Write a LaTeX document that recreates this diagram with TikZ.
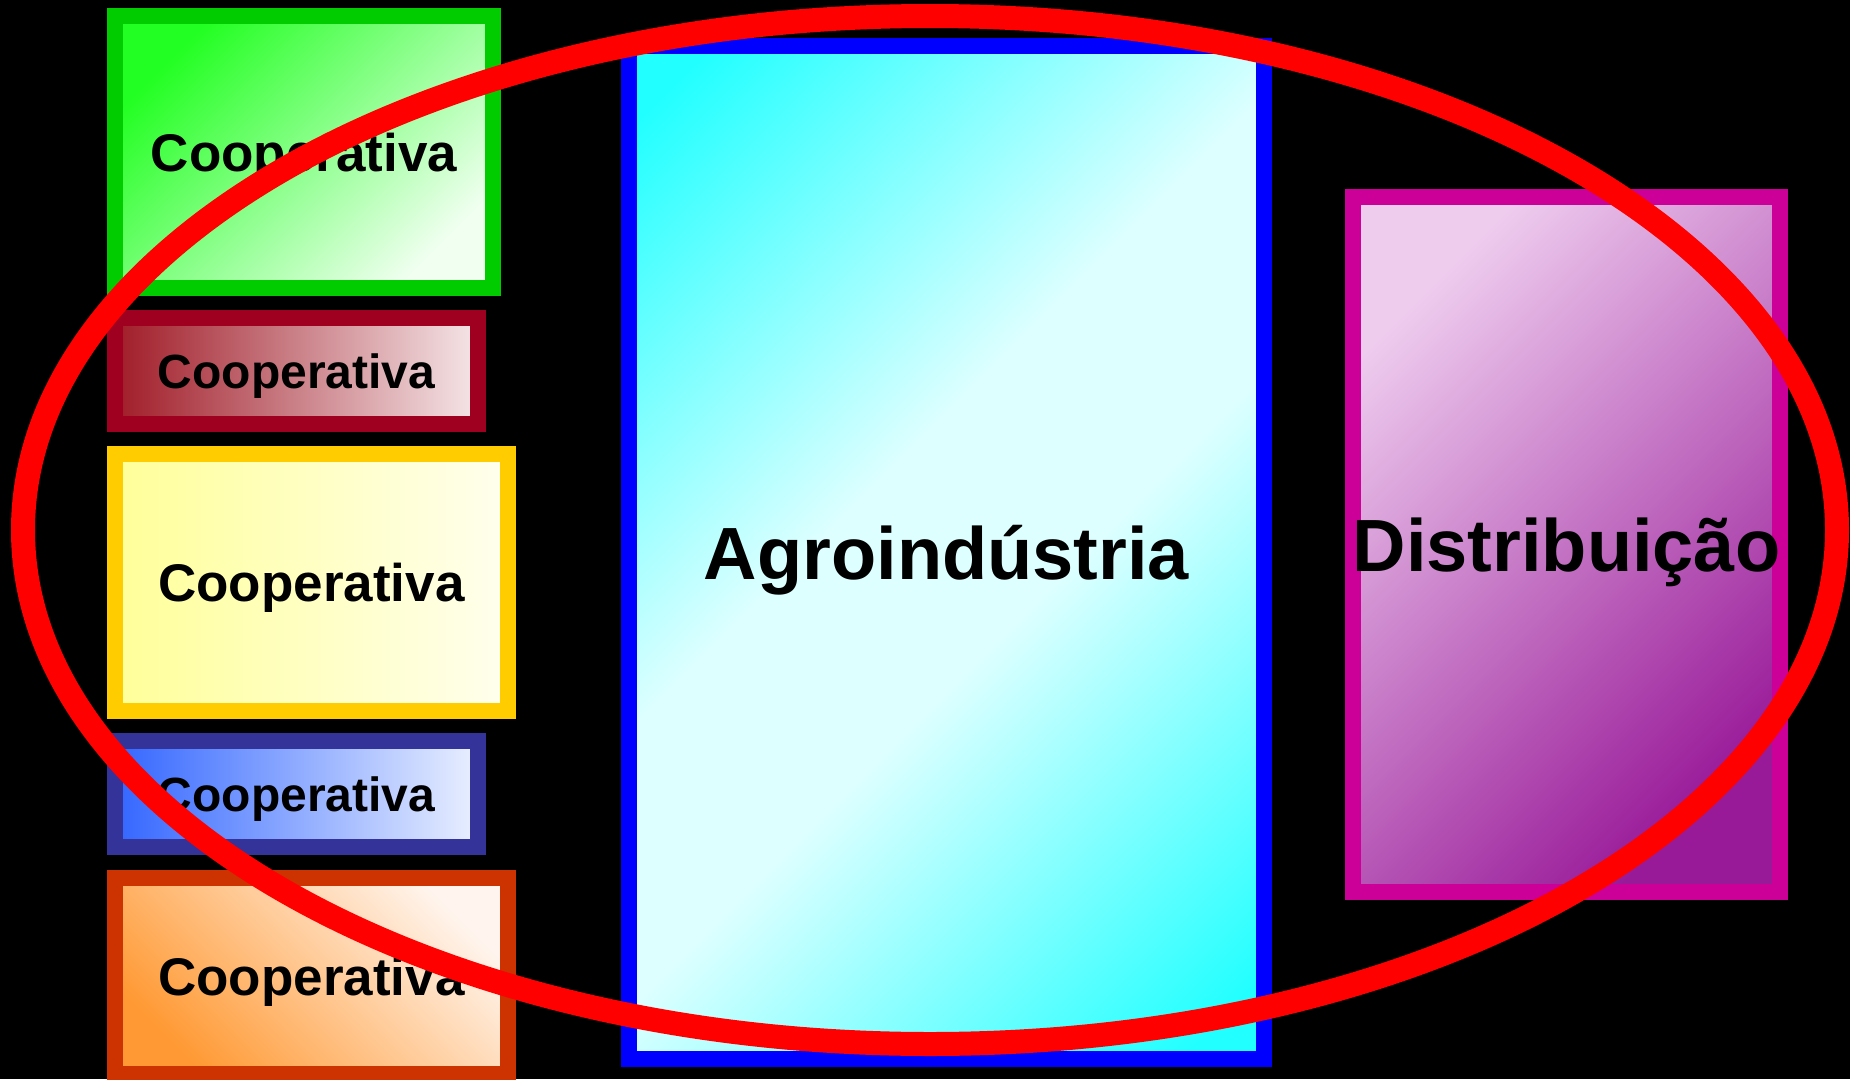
\documentclass[tikz,border=0pt]{standalone}
\usepackage{fontspec}
\setmainfont{Liberation Sans}
\usetikzlibrary{shapes.geometric}
\definecolor{gbord}{HTML}{00CC00}
\definecolor{gA}{HTML}{22FF22}
\definecolor{gB}{HTML}{F0FFF0}
\definecolor{rbord}{HTML}{A00020}
\definecolor{rA}{HTML}{A01C28}
\definecolor{rB}{HTML}{F5E6E8}
\definecolor{ybord}{HTML}{FFCC00}
\definecolor{yA}{HTML}{FFFF99}
\definecolor{yB}{HTML}{FFFFEE}
\definecolor{bbord}{HTML}{333399}
\definecolor{bA}{HTML}{3366FF}
\definecolor{bB}{HTML}{EAF0FF}
\definecolor{obord}{HTML}{CC3300}
\definecolor{oA}{HTML}{FF9933}
\definecolor{oB}{HTML}{FFF5EE}
\definecolor{abord}{HTML}{0000FF}
\definecolor{aA}{HTML}{22FFFF}
\definecolor{aB}{HTML}{DDFFFF}
\definecolor{dbord}{HTML}{CC0099}
\definecolor{dA}{HTML}{EECCEE}
\definecolor{dB}{HTML}{991A99}
\definecolor{ellred}{HTML}{FF0000}
\pgfdeclarehorizontalshading{agroshade}{100bp}{color(0bp)=(aA); color(18bp)=(aA); color(44bp)=(aB); color(56bp)=(aB); color(82bp)=(aA); color(100bp)=(aA)}
\begin{document}
\begin{tikzpicture}[x=1pt,y=-1pt,
  box/.style={rectangle,inner sep=0pt,outer sep=0pt,line width=16pt,font=\bfseries,align=center},
  coopbig/.style={box,font=\fontsize{53}{60}\selectfont\bfseries,text height=38pt,text depth=0pt},
  coopsmall/.style={box,font=\fontsize{48}{54}\selectfont\bfseries,text height=34.5pt,text depth=0pt},
  bigtext/.style={box,font=\fontsize{74}{80}\selectfont\bfseries,text height=53pt,text depth=0pt},
  ring/.style={draw=ellred,line width=24pt}]
\useasboundingbox (0,0) rectangle (1850,1079);
\fill[black] (0,0) rectangle (1850,1079);
\begin{scope}
\clip (0,0) rectangle (1850,1079);
\node[coopbig,draw=gbord,top color=gA,bottom color=gB,shading angle=45,minimum width=378pt,minimum height=272pt] (c1) at (304,152) {Cooperativa};
\node[coopsmall,draw=rbord,left color=rA,right color=rB,minimum width=363pt,minimum height=106pt] (c2) at (296.5,371) {Cooperativa};
\node[coopbig,draw=ybord,left color=yA,right color=yB,minimum width=393pt,minimum height=257pt] (c3) at (311.5,582.5) {Cooperativa};
\node[coopsmall,draw=bbord,left color=bA,right color=bB,minimum width=363pt,minimum height=106pt] (c4) at (296.5,794) {Cooperativa};
\node[coopbig,draw=obord,top color=oB,bottom color=oA,shading angle=-45,minimum width=393pt,minimum height=196pt] (c5) at (311.5,976) {Cooperativa};
\node[bigtext,draw=abord,shading=agroshade,shading angle=-45,minimum width=635pt,minimum height=1013pt] (agro) at (946.5,552.5) {Agroindústria};
\node[bigtext,draw=dbord,top color=dA,bottom color=dB,shading angle=45,minimum width=423pt,minimum height=695pt] (dist) at (1566.5,544.5) {Distribuição};
\node[ring,ellipse,minimum width=1814pt,minimum height=1028pt,inner sep=0pt,outer sep=0pt] (ell) at (930,530) {};
\end{scope}
\end{tikzpicture}
\end{document}
